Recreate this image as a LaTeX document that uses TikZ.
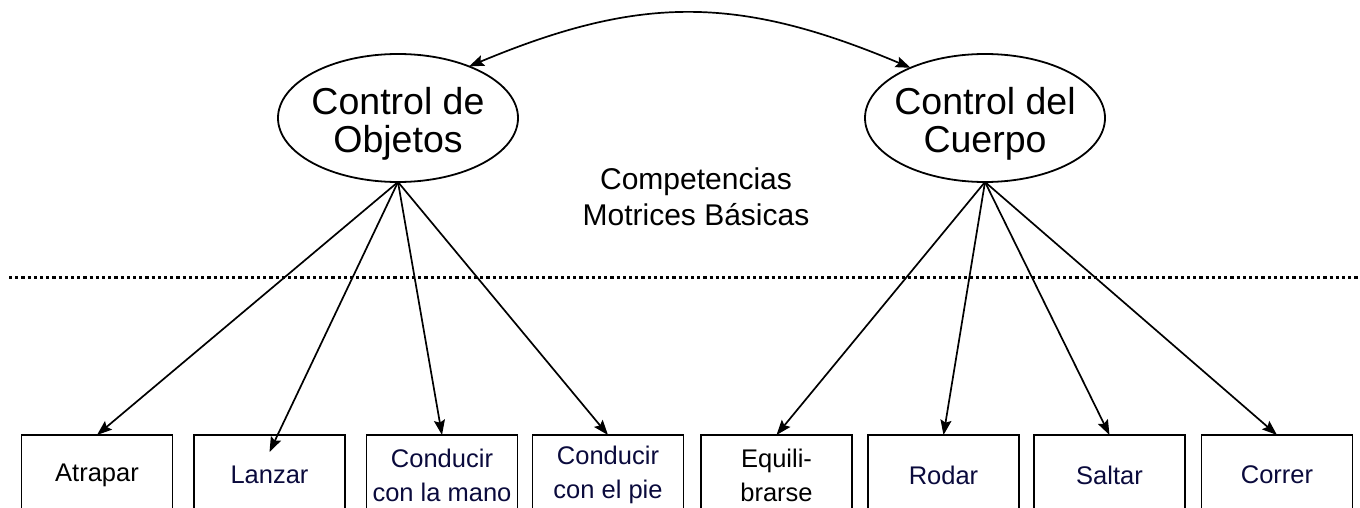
\documentclass[tikz,border=0pt]{standalone}
\usepackage{fontspec}
\setmainfont{Liberation Sans}
\usetikzlibrary{shapes.geometric,arrows.meta}
\definecolor{navy}{RGB}{10,10,60}
\begin{document}
\begin{tikzpicture}[x=1pt,y=-1pt,
  every node/.style={inner sep=0pt, outer sep=0pt},
  oval/.style={ellipse, draw, line width=1.8pt, minimum width=240pt, minimum height=128pt},
  ovaltext/.style={font=\fontsize{37.5}{38.5}\selectfont, align=center},
  skill/.style={draw, line width=1.6pt, minimum width=151pt, minimum height=80pt, anchor=north,
    font=\fontsize{25.5}{34}\selectfont, align=center},
  tip/.style={Stealth[length=15pt,width=11pt,inset=2.5pt]},
  link/.style={line width=1.7pt, -{Stealth[length=15pt,width=11pt,inset=2.5pt]}},
  sep/.style={line width=3pt, dash pattern=on 3.2pt off 3pt}
]
\useasboundingbox (0,0) rectangle (1360,508);
\clip (0,0) rectangle (1360,508);

\node[oval] (ob) at (398,118) {};
\node[ovaltext] (obt) at (398,124) {Control de\\Objetos};
\node[oval] (cu) at (985,118) {};
\node[ovaltext] (cut) at (985,124) {Control del\\Cuerpo};

\node[font=\fontsize{30}{36}\selectfont, align=center] (cmb) at (696,197) {Competencias\\Motrices Básicas};

\coordinate (l0) at (9,277);
\coordinate (l1) at (1362,277);
\draw[sep] (l0) -- (l1);

\node[skill] (b1) at (97,435) {Atrapar};
\node[skill, text=navy] (b2) at (269.5,435) {Lanzar};
\node[skill, text=navy] (b3) at (442,435) {Conducir\\con la mano};
\node[skill, text=navy] (b4) at (608,435) {Conducir\\con el pie};
\node[skill] (b5) at (776.5,435) {Equili-\\brarse};
\node[skill, text=navy] (b6) at (943.5,435) {Rodar};
\node[skill, text=navy] (b7) at (1109.5,435) {Saltar};
\node[skill, text=navy] (b8) at (1277,435) {Correr};

\draw[link] (ob.south) -- (b1.north);
\draw[link] (ob.south) -- ([yshift=-17pt]b2.north);
\draw[link] (ob.south) -- (b3.north);
\draw[link] (ob.south) -- (b4.north);
\draw[link] (cu.south) -- (b5.north);
\draw[link] (cu.south) -- (b6.north);
\draw[link] (cu.south) -- (b7.north);
\draw[link] (cu.south) -- (b8.north);

\draw[line width=1.7pt, {Stealth[length=15pt,width=11pt,inset=2.5pt]}-{Stealth[length=15pt,width=11pt,inset=2.5pt]}]
  (ob.36) .. controls (640,-5) and (738,-5) .. (cu.146);
\end{tikzpicture}
\end{document}
